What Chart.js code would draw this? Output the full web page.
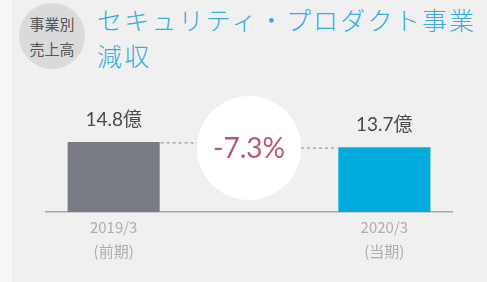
<!DOCTYPE html>
<html>
<head>
<meta charset="utf-8">
<script src="https://cdn.jsdelivr.net/npm/chart.js@4.4.1/dist/chart.umd.min.js"></script>
<style>
  html, body { margin:0; padding:0; }
  body { width:487px; height:282px; background:#f0f0f0; position:relative; overflow:hidden;
         font-family:"Noto Sans CJK JP","Noto Sans",sans-serif; }
  #strip { position:absolute; left:0; top:0; width:12px; height:282px; background:#f7f7f7; }
  #badge { position:absolute; left:19px; top:3px; width:66px; height:66px; border-radius:50%;
           background:#dadada; color:#555; font-size:15px; line-height:25px; text-align:center;
           display:flex; flex-direction:column; justify-content:center; letter-spacing:0px; }
  #title { position:absolute; left:97px; top:1px; color:#36addb; font-size:25px; line-height:36px;
           letter-spacing:2.2px; font-weight:300; white-space:nowrap; }
  #wrap { position:absolute; left:0; top:0; width:487px; height:282px; }
</style>
</head>
<body>
<div id="strip"></div>
<div id="badge"><div>事業別</div><div>売上高</div></div>
<div id="title">セキュリティ・プロダクト事業<br>減収</div>
<div id="wrap"><canvas id="c" width="487" height="282"></canvas></div>
<script>
const categories = ["2019/3", "", "2020/3"];
const periods = ["(前期)", "", "(当期)"];
const sales = [14.8, null, 13.7];
const unit = "億";
const changeLabel = "-7.3%";
const barColors = ["#787d85", "rgba(0,0,0,0)", "#00acdc"];

const overlay = {
  id: "overlay",
  afterDatasetsDraw(chart) {
    const ctx = chart.ctx;
    const meta = chart.getDatasetMeta(0);
    const xs = chart.scales.x;
    const b0 = meta.data[0], b2 = meta.data[2];
    const cx = xs.getPixelForValue(1);
    const cy = 148, r = 52;
    ctx.save();
    ctx.strokeStyle = "#9a9a9a";
    ctx.lineWidth = 1.2;
    ctx.setLineDash([3, 3]);
    ctx.beginPath();
    ctx.moveTo(b0.x + b0.width / 2 + 1, b0.y + 1);
    ctx.lineTo(cx - r, b0.y + 1);
    ctx.moveTo(cx + r, b2.y + 1);
    ctx.lineTo(b2.x - b2.width / 2 - 1, b2.y + 1);
    ctx.stroke();
    ctx.setLineDash([]);
    ctx.fillStyle = "#ffffff";
    ctx.beginPath();
    ctx.arc(cx, cy, r, 0, Math.PI * 2);
    ctx.fill();
    ctx.fillStyle = "#b85a6e";
    ctx.font = "28px Lato, 'Noto Sans', sans-serif";
    ctx.textAlign = "center";
    ctx.textBaseline = "middle";
    ctx.fillText(changeLabel, cx, cy + 1);
    ctx.fillStyle = "#4a4a4a";
    ctx.font = "19px Lato, 'Noto Sans CJK JP', sans-serif";
    [0, 2].forEach(i => {
      const el = meta.data[i];
      ctx.fillText(sales[i].toFixed(1) + unit, el.x, el.y - 22);
    });
    ctx.restore();
  }
};

new Chart(document.getElementById("c"), {
  type: "bar",
  data: {
    labels: categories.map((c, i) => c ? [c, periods[i]] : ""),
    datasets: [{
      data: sales,
      backgroundColor: barColors,
      borderWidth: 0,
      barPercentage: 0.68,
      categoryPercentage: 1
    }]
  },
  options: {
    responsive: false,
    animation: false,
    layout: { padding: { left: 46, right: 35, top: 70, bottom: 0 } },
    plugins: { legend: { display: false }, tooltip: { enabled: false }, title: { display: false } },
    scales: {
      y: { display: false, min: 0, max: 30 },
      x: {
        grid: { display: false, drawTicks: false },
        border: { display: true, color: "#a8a8a8", width: 1.5 },
        ticks: {
          color: "#adadad",
          padding: 3,
          font: { size: 15, family: "'Noto Sans CJK JP', 'Noto Sans', sans-serif", lineHeight: 1.6 }
        },
        afterFit(scale) { scale.height = 70; }
      }
    }
  },
  plugins: [overlay]
});
</script>
</body>
</html>
